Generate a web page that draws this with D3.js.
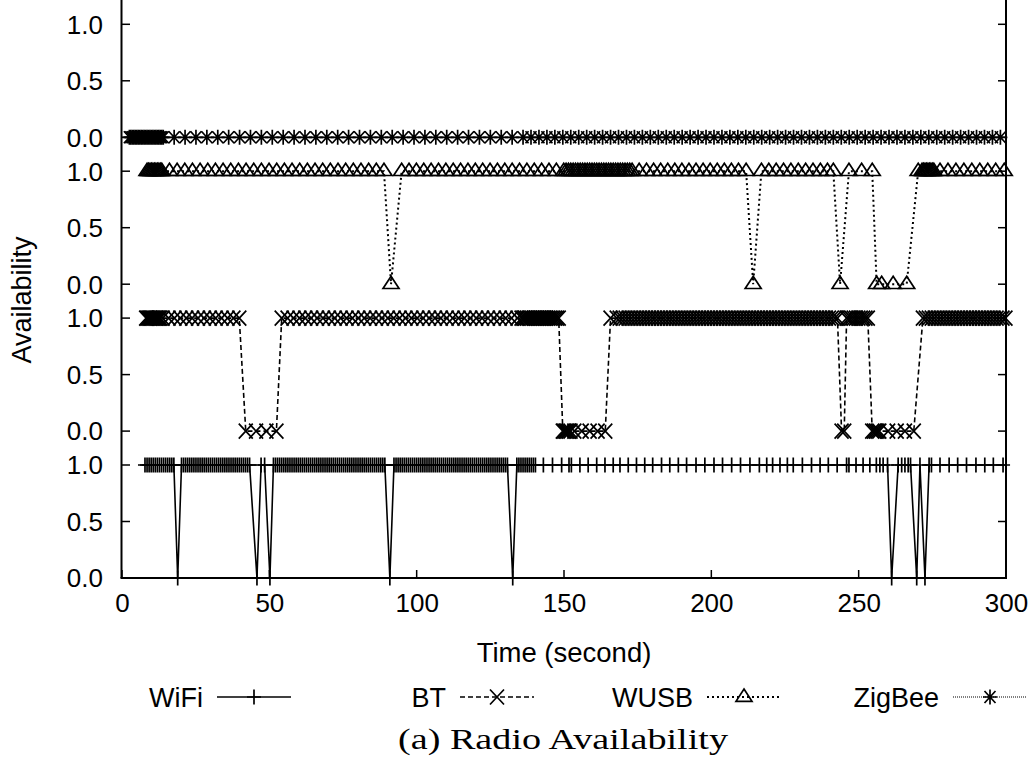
<!DOCTYPE html>
<html><head><meta charset="utf-8">
<script src="https://cdn.jsdelivr.net/npm/d3@7"></script>
<style>body{margin:0;background:#fff}svg{display:block}</style>
</head><body><svg id="c" width="1036" height="766"></svg>
<script>
// ---------------- DATA ----------------
const xTicks = [0, 50, 100, 150, 200, 250, 300];
const yTickValues = [0, 0.5, 1];
const yTickLabels = ["0.0", "0.5", "1.0"];
const seriesNames = ["WiFi", "BT", "WUSB", "ZigBee"];

// WiFi: times (s) where available (1) and unavailable (0)
const wifiUp = [7.8,8.5,9.2,9.9,10.6,11.3,12.0,12.7,13.4,14.1,14.8,15.5,16.2,16.9,17.6,
20.2,20.9,21.6,22.3,23.0,23.7,24.4,25.1,25.8,26.5,27.2,27.9,28.6,29.3,30.0,30.7,31.4,32.1,32.8,33.5,34.2,34.9,35.6,36.3,37.0,37.7,38.4,39.1,39.8,40.5,41.2,41.9,42.6,43.3,
47.2,48.4,
51.4,52.1,52.8,53.5,54.2,54.9,55.6,56.3,57.0,57.7,58.4,59.1,59.8,60.5,61.2,61.9,62.6,63.3,64.0,64.7,65.4,66.1,66.8,67.5,68.2,68.9,69.6,70.3,71.0,71.7,72.4,73.1,73.8,74.5,75.2,75.9,76.6,77.3,78.0,78.7,79.4,80.1,80.8,81.5,82.2,82.9,83.6,84.3,85.0,85.7,86.4,87.1,87.8,88.5,89.2,
92.3,93.0,93.7,94.4,95.1,95.8,96.5,97.2,97.9,98.6,99.3,100.0,100.7,101.4,102.1,102.8,103.5,104.2,104.9,105.6,106.3,107.0,107.7,108.4,109.1,109.8,110.5,111.2,111.9,112.6,113.3,114.0,114.7,115.4,116.1,116.8,117.5,118.2,118.9,119.6,120.3,121.0,121.7,122.4,123.1,123.8,124.5,125.2,125.9,126.6,127.3,128.0,128.7,129.4,130.1,130.8,
134.0,134.7,135.4,136.1,136.8,137.5,138.2,138.9,139.6,140.3,
143.0,146.1,149.2,151.7,152.5,155.4,158.2,161.1,163.9,166.7,169.0,171.8,174.6,177.4,180.1,183.1,185.9,188.8,191.6,194.8,197.8,200.9,203.8,206.9,209.9,213.1,216.3,218.8,220.8,223.3,225.8,227.8,230.9,234.0,236.9,239.7,242.7,245.9,246.7,249.1,251.5,253.8,256.0,257.2,258.3,259.8,
263.4,264.6,265.7,266.8,267.6,270.8,273.9,274.7,277.6,280.7,283.6,286.6,289.8,292.8,295.7,299.0];
const wifiDown = [18.9, 45.8, 50.2, 90.9, 132.6, 261.2, 269.7, 272.5];

// Bluetooth
const btUp = [8.2,8.6,9.0,9.4,9.8,10.2,10.6,11.0,11.4,11.8,12.2,12.6,13.0,13.8,15.8,17.8,19.8,21.8,23.8,25.8,27.8,29.8,31.8,33.8,35.8,37.8,39.8,
54.2,56.2,58.2,60.2,62.2,64.2,66.2,68.2,70.2,72.2,74.2,76.2,78.2,80.2,82.2,84.2,86.2,88.2,90.2,92.2,94.2,96.2,98.2,100.2,102.2,104.2,106.2,108.2,110.2,112.2,114.2,116.2,118.2,120.2,122.2,124.2,126.2,128.2,130.2,132.2,134.2,
135.6,136.2,136.8,137.4,138.0,138.6,139.2,139.8,140.4,141.0,141.6,142.2,142.8,143.4,144.0,144.6,145.2,145.8,146.4,147.0,147.6,148.2,
165.8,167.9,168.9,169.9,170.9,171.9,172.9,173.9,174.9,175.9,176.9,177.9,178.9,179.9,180.9,181.9,182.9,183.9,184.9,185.9,186.9,187.9,188.9,189.9,190.9,191.9,192.9,193.9,194.9,195.9,196.9,197.9,198.9,199.9,200.9,201.9,202.9,203.9,204.9,205.9,206.9,207.9,208.9,209.9,210.9,211.9,212.9,213.9,214.9,215.9,216.9,217.9,218.9,219.9,220.9,221.9,222.9,223.9,224.9,225.9,226.9,227.9,228.9,229.9,230.9,231.9,232.9,233.9,234.9,235.9,236.9,237.9,238.9,239.9,240.9,241.9,242.8,
245.9,246.7,247.5,248.3,249.1,249.9,250.7,251.5,252.3,253.1,
271.8,272.8,273.8,274.8,275.8,276.8,277.8,278.8,279.8,280.8,281.8,282.8,283.8,284.8,285.8,286.8,287.8,288.8,289.8,290.8,291.8,292.8,293.8,294.8,295.8,296.8,297.8,298.8,299.8];
const btDown = [42.0,45.5,49.0,52.4,
149.6,150.1,150.6,151.1,151.6,152.2,153.5,156.0,158.7,161.4,164.0,
244.2,245.1,
254.6,255.2,255.8,256.4,257.0,260.0,262.9,265.7,268.7];

// Wireless USB
const wusbUp = [8.5,9.0,9.5,10.0,10.5,11.0,11.5,12.0,12.5,13.0,13.5,
16.1,18.7,21.3,23.9,26.5,29.1,31.7,34.3,36.9,39.5,42.1,44.7,47.3,49.9,52.5,55.1,57.7,60.3,62.9,65.5,68.1,70.7,73.3,75.9,78.5,81.1,83.7,86.3,88.9,
94.9,97.4,99.9,102.4,104.9,107.4,109.9,112.4,114.9,117.4,119.9,122.4,124.9,127.4,129.9,132.4,134.9,137.4,139.9,142.4,144.9,147.4,149.9,
150.7,151.5,152.3,153.1,153.9,154.7,155.5,156.3,157.1,157.9,158.7,159.5,160.3,161.1,161.9,162.7,163.5,164.3,165.1,165.9,166.7,167.5,168.3,169.1,169.9,170.7,171.5,172.3,173.1,
175.5,178.0,180.4,182.8,185.2,187.6,190.0,192.4,194.8,197.2,199.6,202.0,204.4,206.8,209.2,211.8,
217.0,219.5,222.0,224.5,227.0,229.5,232.0,234.5,237.0,239.4,241.4,
246.7,251.0,254.6,
270.2,271.5,272.0,272.5,273.0,273.5,274.0,274.5,275.0,275.5,
277.6,280.3,283.0,285.7,288.4,291.1,293.8,296.5,299.4];
const wusbDown = [91.3, 214.2, 243.7, 256.1, 257.8, 261.7, 266.3];

// ZigBee (never available)
const zigbeeUp = [];
const zigbeeDown = [2.5,3.0,3.5,4.0,4.5,5.0,5.5,6.0,6.5,7.0,7.5,8.0,8.5,9.0,9.5,10.0,10.5,11.0,11.5,12.0,12.5,13.0,13.5,14.0,
17.7,21.4,25.1,28.8,32.5,36.2,39.9,43.6,47.3,51.0,54.7,58.4,62.1,65.8,69.5,73.2,76.9,80.6,84.3,88.0,91.7,95.4,99.1,102.8,106.5,110.2,113.9,117.6,121.3,125.0,128.7,132.4,136.1,
138.8,141.5,144.2,146.9,149.6,152.3,155.0,157.7,160.4,163.1,165.8,168.5,171.2,173.9,176.6,179.3,182.0,184.7,187.4,190.1,192.8,195.5,198.2,200.9,203.6,206.3,209.0,211.7,214.4,217.1,219.8,222.5,225.2,227.9,230.6,233.3,236.0,238.7,241.4,244.1,246.8,249.5,252.2,254.9,257.6,260.3,263.0,265.7,268.4,271.1,273.8,276.5,279.2,281.9,284.6,287.3,290.0,292.7,295.4,298.1];

// ---------------- LAYOUT ----------------
const W = 1036, H = 766;
const panelOffset = {WiFi: 0, BT: 1.3, WUSB: 2.6, ZigBee: 3.9};
const svg = d3.select("#c");
svg.append("rect").attr("width", W).attr("height", H).attr("fill", "#fff");

const x = d3.scaleLinear().domain([0, 300]).range([122, 1006]);
const y = d3.scaleLinear().domain([0, 5.115]).range([578, 0]);
const font = "'Liberation Sans', Arial, Helvetica, sans-serif";

function build(up, down) {
  return up.map(t => ({t, v: 1})).concat(down.map(t => ({t, v: 0})))
    .sort((a, b) => a.t - b.t);
}
const data = {
  WiFi: build(wifiUp, wifiDown),
  BT: build(btUp, btDown),
  WUSB: build(wusbUp, wusbDown),
  ZigBee: build(zigbeeUp, zigbeeDown)
};

const style = {
  WiFi:   {dash: null,  width: 1.6, color: "#000", marker: "plus"},
  BT:     {dash: "5,3", width: 1.6, color: "#000", marker: "cross"},
  WUSB:   {dash: "2,3", width: 2.0, color: "#000", marker: "tri"},
  ZigBee: {dash: "1,1", width: 1.6, color: "#555", marker: "star"}
};
function markerPath(kind) {
  const sx = 7, sy = 7.5;
  if (kind === "plus") return `M${-sx},0H${sx}M0,${-sy}V${sy}`;
  if (kind === "cross") return `M${-sx},${-sy}L${sx},${sy}M${-sx},${sy}L${sx},${-sy}`;
  if (kind === "tri") return `M0,-8L8,4.3L-8,4.3Z`;
  if (kind === "star") return `M${-sx},0H${sx}M0,${-sy}V${sy}M${-5.5},${-6}L5.5,6M-5.5,6L5.5,-6`;
}

// axes frame
const g = svg.append("g");
const plotTop = y.range()[1];
g.append("line").attr("x1", x(0) - 0.5).attr("x2", x(0) - 0.5).attr("y1", plotTop).attr("y2", y(0))
  .attr("stroke", "#000").attr("stroke-width", 2);
g.append("line").attr("x1", x(300)).attr("x2", x(300)).attr("y1", plotTop).attr("y2", y(0))
  .attr("stroke", "#000").attr("stroke-width", 2);
g.append("line").attr("x1", x(0) - 1.5).attr("x2", x(300) + 1).attr("y1", y(0)).attr("y2", y(0))
  .attr("stroke", "#000").attr("stroke-width", 2);

// y ticks per panel
seriesNames.forEach(name => {
  const off = panelOffset[name];
  yTickValues.forEach((v, i) => {
    const yy = y(off + v);
    g.append("line").attr("x1", x(0)).attr("x2", x(0) + 8).attr("y1", yy).attr("y2", yy)
      .attr("stroke", "#000").attr("stroke-width", 1.5);
    g.append("line").attr("x1", x(300) - 8).attr("x2", x(300)).attr("y1", yy).attr("y2", yy)
      .attr("stroke", "#000").attr("stroke-width", 1.5);
    g.append("text").attr("x", 103).attr("y", yy).attr("dy", "0.36em")
      .attr("text-anchor", "end").attr("font-family", font).attr("font-size", 26)
      .text(yTickLabels[i]);
  });
});
// x ticks
const xAxis = d3.axisBottom(x).tickValues(xTicks).tickSize(0).tickPadding(16).tickFormat(d3.format("d"));
const xa = svg.append("g").attr("transform", `translate(0,${y(0)})`).call(xAxis);
xa.select(".domain").remove();
xa.selectAll("text").attr("font-family", font).attr("font-size", 26).attr("fill", "#000");
xTicks.forEach(t => {
  g.append("line").attr("x1", x(t)).attr("x2", x(t)).attr("y1", y(0)).attr("y2", y(0) - 8)
    .attr("stroke", "#000").attr("stroke-width", 1.5);
});

// axis titles
svg.append("text").attr("x", 564).attr("y", 662).attr("text-anchor", "middle")
  .attr("font-family", font).attr("font-size", 27.5).text("Time (second)");
svg.append("text").attr("transform", "translate(31,300) rotate(-90)").attr("text-anchor", "middle")
  .attr("font-family", font).attr("font-size", 27).text("Availability");

// series
seriesNames.forEach(name => {
  const off = panelOffset[name];
  const st = style[name];
  const pts = data[name];
  const gl = svg.append("g");
  gl.append("path").attr("d", d3.line().x(d => x(d.t)).y(d => y(d.v + off))(pts))
    .attr("fill", "none").attr("stroke", st.color).attr("stroke-width", st.width)
    .attr("stroke-dasharray", st.dash);
  gl.selectAll("path.m").data(pts).enter().append("path").attr("class", "m")
    .attr("transform", d => `translate(${x(d.t)},${y(d.v + off)})`)
    .attr("d", markerPath(st.marker)).attr("fill", "none").attr("stroke", "#000")
    .attr("stroke-width", 1.7);
});

// legend
const legendItems = [
  {name: "WiFi", cx: 254},
  {name: "BT", cx: 497},
  {name: "WUSB", cx: 744},
  {name: "ZigBee", cx: 990}
];
const ly = 697, half = 37;
legendItems.forEach(it => {
  const st = style[it.name];
  svg.append("text").attr("x", it.cx - half - 14).attr("y", ly).attr("dy", "0.36em").attr("text-anchor", "end")
    .attr("font-family", font).attr("font-size", 27).text(it.name);
  svg.append("line").attr("x1", it.cx - half).attr("x2", it.cx + half).attr("y1", ly).attr("y2", ly)
    .attr("stroke", st.color).attr("stroke-width", st.width).attr("stroke-dasharray", st.dash);
  svg.append("path").attr("transform", `translate(${it.cx},${ly})`)
    .attr("d", markerPath(st.marker)).attr("fill", "none").attr("stroke", "#000").attr("stroke-width", 1.7);
});

// caption
svg.append("text").attr("x", 563).attr("y", 749).attr("text-anchor", "middle")
  .attr("font-family", "'Liberation Serif', 'DejaVu Serif', serif").attr("font-size", 30)
  .attr("textLength", 330).attr("lengthAdjust", "spacingAndGlyphs")
  .text("(a) Radio Availability");
</script></body></html>
